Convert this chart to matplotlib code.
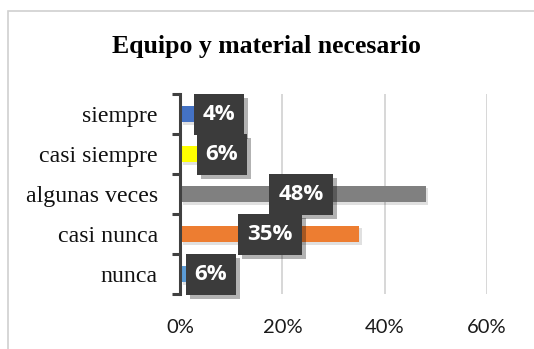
import matplotlib
matplotlib.use("Agg")
import matplotlib.pyplot as plt
import matplotlib.patheffects as pe
from matplotlib.patches import Rectangle

# Survey responses, top to bottom
categories = ["siempre", "casi siempre", "algunas veces", "casi nunca", "nunca"]
shares = [0.04, 0.06, 0.48, 0.35, 0.06]
bar_colors = ["#4472C4", "#FFFF00", "#808080", "#ED7D31", "#5B9BD5"]
# where each value callout sits along the x axis
label_x = [0.076, 0.082, 0.237, 0.175, 0.060]
x_ticks = [0.0, 0.2, 0.4, 0.6]
x_tick_labels = ["0%", "20%", "40%", "60%"]
title = "Equipo y material necesario"

W, H = 534, 349
AX_L, AX_R, AX_T, AX_B = 180, 487, 94, 294
XMAX = 0.6
plt.rcParams["hatch.color"] = "#505050"
plt.rcParams["hatch.linewidth"] = 1.0
fig = plt.figure(figsize=(W / 100, H / 100), dpi=100)
fig.patch.set_facecolor("white")

# chart frame
fig.patches.append(Rectangle((8 / W, -0.05), 1.2, 1 - 11 / H + 0.05,
                             transform=fig.transFigure, fill=False,
                             edgecolor="#D0D0D0", linewidth=1.2))

ax = fig.add_axes([AX_L / W, 1 - AX_B / H, (AX_R - AX_L) / W, (AX_B - AX_T) / H])
ypos = list(range(len(categories)))
bars = ax.barh(ypos, shares, height=0.42, color=bar_colors, zorder=3)
for b in bars:
    b.set_path_effects([pe.SimplePatchShadow(offset=(2, -2), shadow_rgbFace="k", alpha=0.12),
                        pe.Normal()])

ax.set_xlim(0, XMAX)
ax.set_ylim(len(categories) - 0.5, -0.5)
ax.set_xticks(x_ticks)
ax.set_xticklabels(x_tick_labels, fontfamily="Lato", fontsize=14.5, color="#1a1a1a")
ax.tick_params(axis="x", length=0, pad=18)

ax.set_yticks(ypos)
ax.set_yticklabels(categories, fontfamily="Liberation Serif", fontsize=17.2, color="#111111")
ax.tick_params(axis="y", length=0, pad=16)
# category boundary ticks
ax.set_yticks([i - 0.5 for i in range(len(categories) + 1)], minor=True)
ax.tick_params(axis="y", which="minor", length=6, width=2.2, color="#404040")

ax.xaxis.grid(True, color="#D4D4D4", linewidth=1.3, zorder=0)
for s in ["top", "right", "bottom"]:
    ax.spines[s].set_visible(False)
ax.spines["left"].set_color("#404040")
ax.spines["left"].set_linewidth(2.2)
ax.spines["left"].set_zorder(4)

# pixel -> data conversion for the fixed axes box
px_x = XMAX / (AX_R - AX_L)
px_y = len(categories) / (AX_B - AX_T)

for i, (v, lx) in enumerate(zip(shares, label_x)):
    txt = f"{round(v * 100):d}%"
    bw = (22 + 14 * len(txt)) * px_x
    bh = 41 * px_y
    box = Rectangle((lx - bw / 2, i - bh / 2), bw, bh, facecolor="#3B3B3B",
                    edgecolor="none", zorder=6, clip_on=False)
    box.set_path_effects([
        pe.SimplePatchShadow(offset=(3, -3), shadow_rgbFace="k", alpha=0.3),
        pe.Normal()])
    ax.add_patch(box)
    ax.add_patch(Rectangle((lx - bw / 2, i - bh / 2), bw, bh, facecolor="none",
                           edgecolor="none", hatch=".", linewidth=0, zorder=6.5,
                           clip_on=False))
    ax.text(lx, i, txt, ha="center", va="center", fontfamily="Open Sans",
            fontweight="bold", fontsize=16, color="white", zorder=7)

fig.text(266 / W, 1 - 47 / H, title, ha="center", va="center",
         fontfamily="Liberation Serif", fontweight="bold", fontsize=18.5, color="black")

fig.savefig("out.png", dpi=100)
